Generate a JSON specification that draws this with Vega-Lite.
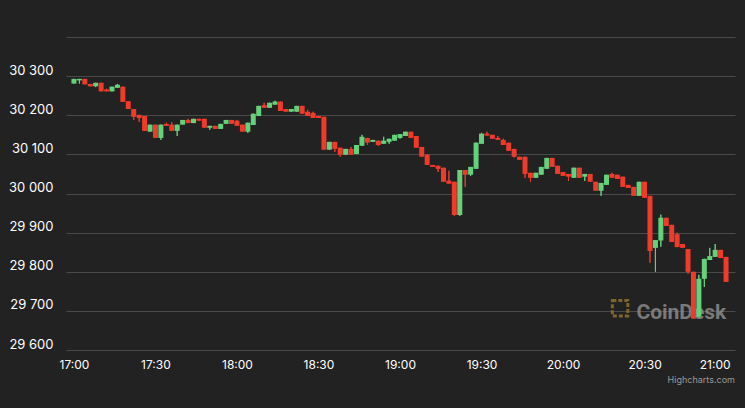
{
  "$schema": "https://vega.github.io/schema/vega-lite/v6.json",
  "autosize": {"type": "none"},
  "width": 669,
  "height": 313,
  "padding": {"left": 66, "top": 37, "right": 10, "bottom": 58},
  "background": "#222222",
  "config": {"view": {"stroke": null}, "font": "Inter"},
  "title": {"text": "Highcharts.com", "orient": "bottom", "anchor": "end", "frame": "group", "fontSize": 9, "fontWeight": "normal", "color": "#999999", "font": "Inter", "offset": 6},
  "resolve": {"axis": {"x": "independent", "y": "independent"}},
  "layer": [
    {
      "data": {"name": "candles"},
      "mark": {"type": "rule", "strokeWidth": 1},
      "encoding": {
        "x": {
          "field": "t", "type": "temporal",
          "scale": {"domain": [
            {"year": 2023, "month": 6, "date": 1, "hours": 16, "minutes": 58, "seconds": 55},
            {"year": 2023, "month": 6, "date": 1, "hours": 21, "minutes": 1, "seconds": 27}
          ]},
          "axis": {
            "title": null, "format": "%H:%M",
            "values": [
              {"year": 2023, "month": 6, "date": 1, "hours": 17, "minutes": 0},
              {"year": 2023, "month": 6, "date": 1, "hours": 17, "minutes": 30},
              {"year": 2023, "month": 6, "date": 1, "hours": 18, "minutes": 0},
              {"year": 2023, "month": 6, "date": 1, "hours": 18, "minutes": 30},
              {"year": 2023, "month": 6, "date": 1, "hours": 19, "minutes": 0},
              {"year": 2023, "month": 6, "date": 1, "hours": 19, "minutes": 30},
              {"year": 2023, "month": 6, "date": 1, "hours": 20, "minutes": 0},
              {"year": 2023, "month": 6, "date": 1, "hours": 20, "minutes": 30},
              {"year": 2023, "month": 6, "date": 1, "hours": 21, "minutes": 0}
            ],
            "grid": false, "domain": false, "ticks": false,
            "labelColor": "#ffffff", "labelFont": "Inter", "labelFontSize": 12,
            "labelPadding": 9, "labelBaseline": "top",
            "labelAlign": {"condition": {"test": "hours(datum.value) == 21", "value": "right"}, "value": "center"},
            "labelOffset": {"condition": {"test": "hours(datum.value) == 21", "value": 4}, "value": 0}
          }
        },
        "y": {
          "field": "l", "type": "quantitative",
          "scale": {"domain": [29600, 30400], "nice": false, "zero": false},
          "axis": {
            "title": null,
            "values": [29600, 29700, 29800, 29900, 30000, 30100, 30200, 30300, 30400],
            "labelExpr": "datum.value >= 30400 ? '' : replace(format(datum.value, ','), ',', ' ')",
            "grid": true, "gridColor": "#4a4a4a", "gridWidth": 1,
            "domain": false, "ticks": false,
            "labelColor": "#ffffff", "labelFont": "Inter", "labelFontSize": 13,
            "labelPadding": 13, "labelAlign": "right", "labelBaseline": "alphabetic", "labelOffset": -2
          }
        },
        "y2": {"field": "h"},
        "color": {"condition": {"test": "datum.o <= datum.c", "value": "#64d27b"}, "value": "#ef3a2c"}
      }
    },
    {
      "data": {"values": [{"label": "CoinDesk"}]},
      "mark": {"type": "point", "shape": "square", "size": 240, "filled": false, "stroke": "#8a6d2f", "strokeWidth": 3, "strokeDash": [4, 2], "opacity": 0.9},
      "encoding": {
        "x": {"datum": {"year": 2023, "month": 6, "date": 1, "hours": 20, "minutes": 21, "seconds": 0}, "type": "temporal", "axis": null},
        "y": {"datum": 29707, "type": "quantitative", "axis": null}
      }
    },
    {
      "data": {"values": [{"label": "CoinDesk"}]},
      "mark": {"type": "text", "font": "Roboto", "fontSize": 21, "fontWeight": "bold", "color": "#8a8a8a", "opacity": 0.85, "align": "left", "baseline": "alphabetic"},
      "encoding": {
        "text": {"field": "label"},
        "x": {"datum": {"year": 2023, "month": 6, "date": 1, "hours": 20, "minutes": 27}, "type": "temporal", "axis": null},
        "y": {"datum": 29680, "type": "quantitative", "axis": null}
      }
    },
    {
      "data": {"name": "candles"},
      "mark": {"type": "rule", "strokeWidth": 1},
      "encoding": {
        "x": {"field": "t", "type": "temporal", "axis": null},
        "y": {"field": "l", "type": "quantitative", "axis": null},
        "y2": {"field": "h"},
        "color": {"condition": {"test": "datum.o <= datum.c", "value": "#64d27b"}, "value": "#ef3a2c"}
      }
    },
    {
      "data": {"name": "candles"},
      "mark": {"type": "bar", "size": 5},
      "encoding": {
        "x": {"field": "t", "type": "temporal", "axis": null},
        "y": {"field": "o", "type": "quantitative", "axis": null},
        "y2": {"field": "c"},
        "color": {"condition": {"test": "datum.o <= datum.c", "value": "#64d27b"}, "value": "#ef3a2c"}
      }
    }
  ],
  "datasets": {"candles": [
    {"t":"2023-06-01T17:00:00","o":30281,"h":30293,"l":30281,"c":30293},
    {"t":"2023-06-01T17:02:00","o":30289,"h":30293,"l":30281,"c":30293},
    {"t":"2023-06-01T17:04:00","o":30293,"h":30293,"l":30279,"c":30279},
    {"t":"2023-06-01T17:06:00","o":30280,"h":30280,"l":30274,"c":30274},
    {"t":"2023-06-01T17:08:00","o":30274,"h":30283,"l":30272,"c":30283},
    {"t":"2023-06-01T17:10:00","o":30283,"h":30283,"l":30261,"c":30261},
    {"t":"2023-06-01T17:12:00","o":30266,"h":30268,"l":30261,"c":30261},
    {"t":"2023-06-01T17:14:00","o":30261,"h":30273,"l":30261,"c":30273},
    {"t":"2023-06-01T17:16:00","o":30270,"h":30280,"l":30270,"c":30278},
    {"t":"2023-06-01T17:18:00","o":30273,"h":30273,"l":30234,"c":30234},
    {"t":"2023-06-01T17:20:00","o":30236,"h":30236,"l":30216,"c":30216},
    {"t":"2023-06-01T17:22:00","o":30216,"h":30216,"l":30188,"c":30196},
    {"t":"2023-06-01T17:24:00","o":30201,"h":30201,"l":30183,"c":30193},
    {"t":"2023-06-01T17:26:00","o":30198,"h":30198,"l":30160,"c":30160},
    {"t":"2023-06-01T17:28:00","o":30158,"h":30176,"l":30158,"c":30176},
    {"t":"2023-06-01T17:30:00","o":30176,"h":30176,"l":30142,"c":30142},
    {"t":"2023-06-01T17:32:00","o":30142,"h":30176,"l":30137,"c":30176},
    {"t":"2023-06-01T17:34:00","o":30178,"h":30181,"l":30173,"c":30173},
    {"t":"2023-06-01T17:36:00","o":30176,"h":30182,"l":30160,"c":30160},
    {"t":"2023-06-01T17:38:00","o":30160,"h":30176,"l":30147,"c":30176},
    {"t":"2023-06-01T17:40:00","o":30176,"h":30188,"l":30176,"c":30188},
    {"t":"2023-06-01T17:42:00","o":30188,"h":30191,"l":30180,"c":30180},
    {"t":"2023-06-01T17:44:00","o":30180,"h":30191,"l":30180,"c":30191},
    {"t":"2023-06-01T17:46:00","o":30191,"h":30191,"l":30186,"c":30186},
    {"t":"2023-06-01T17:48:00","o":30191,"h":30191,"l":30168,"c":30168},
    {"t":"2023-06-01T17:50:00","o":30168,"h":30173,"l":30163,"c":30173},
    {"t":"2023-06-01T17:52:00","o":30173,"h":30173,"l":30165,"c":30165},
    {"t":"2023-06-01T17:54:00","o":30165,"h":30178,"l":30165,"c":30178},
    {"t":"2023-06-01T17:56:00","o":30178,"h":30188,"l":30178,"c":30188},
    {"t":"2023-06-01T17:58:00","o":30188,"h":30188,"l":30178,"c":30178},
    {"t":"2023-06-01T18:00:00","o":30186,"h":30188,"l":30173,"c":30173},
    {"t":"2023-06-01T18:02:00","o":30176,"h":30176,"l":30158,"c":30158},
    {"t":"2023-06-01T18:04:00","o":30158,"h":30181,"l":30155,"c":30181},
    {"t":"2023-06-01T18:06:00","o":30175,"h":30204,"l":30175,"c":30204},
    {"t":"2023-06-01T18:08:00","o":30198,"h":30224,"l":30198,"c":30224},
    {"t":"2023-06-01T18:10:00","o":30226,"h":30232,"l":30219,"c":30219},
    {"t":"2023-06-01T18:12:00","o":30219,"h":30232,"l":30219,"c":30232},
    {"t":"2023-06-01T18:14:00","o":30227,"h":30237,"l":30227,"c":30235},
    {"t":"2023-06-01T18:16:00","o":30235,"h":30235,"l":30211,"c":30211},
    {"t":"2023-06-01T18:18:00","o":30216,"h":30216,"l":30209,"c":30209},
    {"t":"2023-06-01T18:20:00","o":30209,"h":30216,"l":30209,"c":30216},
    {"t":"2023-06-01T18:22:00","o":30209,"h":30224,"l":30209,"c":30224},
    {"t":"2023-06-01T18:24:00","o":30224,"h":30224,"l":30204,"c":30204},
    {"t":"2023-06-01T18:26:00","o":30209,"h":30214,"l":30198,"c":30198},
    {"t":"2023-06-01T18:28:00","o":30206,"h":30209,"l":30193,"c":30193},
    {"t":"2023-06-01T18:30:00","o":30198,"h":30198,"l":30193,"c":30193},
    {"t":"2023-06-01T18:32:00","o":30196,"h":30196,"l":30112,"c":30112},
    {"t":"2023-06-01T18:34:00","o":30112,"h":30132,"l":30112,"c":30132},
    {"t":"2023-06-01T18:36:00","o":30132,"h":30132,"l":30106,"c":30114},
    {"t":"2023-06-01T18:38:00","o":30117,"h":30117,"l":30094,"c":30099},
    {"t":"2023-06-01T18:40:00","o":30099,"h":30114,"l":30099,"c":30114},
    {"t":"2023-06-01T18:42:00","o":30114,"h":30119,"l":30099,"c":30099},
    {"t":"2023-06-01T18:44:00","o":30101,"h":30124,"l":30101,"c":30124},
    {"t":"2023-06-01T18:46:00","o":30122,"h":30150,"l":30122,"c":30145},
    {"t":"2023-06-01T18:48:00","o":30142,"h":30142,"l":30124,"c":30130},
    {"t":"2023-06-01T18:50:00","o":30132,"h":30137,"l":30132,"c":30137},
    {"t":"2023-06-01T18:52:00","o":30135,"h":30135,"l":30122,"c":30124},
    {"t":"2023-06-01T18:54:00","o":30127,"h":30145,"l":30127,"c":30135},
    {"t":"2023-06-01T18:56:00","o":30132,"h":30140,"l":30127,"c":30140},
    {"t":"2023-06-01T18:58:00","o":30135,"h":30150,"l":30135,"c":30150},
    {"t":"2023-06-01T19:00:00","o":30142,"h":30152,"l":30140,"c":30152},
    {"t":"2023-06-01T19:02:00","o":30147,"h":30158,"l":30147,"c":30158},
    {"t":"2023-06-01T19:04:00","o":30158,"h":30158,"l":30142,"c":30142},
    {"t":"2023-06-01T19:06:00","o":30147,"h":30147,"l":30117,"c":30117},
    {"t":"2023-06-01T19:08:00","o":30119,"h":30119,"l":30094,"c":30094},
    {"t":"2023-06-01T19:10:00","o":30099,"h":30101,"l":30073,"c":30073},
    {"t":"2023-06-01T19:12:00","o":30073,"h":30073,"l":30068,"c":30068},
    {"t":"2023-06-01T19:14:00","o":30071,"h":30071,"l":30055,"c":30063},
    {"t":"2023-06-01T19:16:00","o":30066,"h":30066,"l":30030,"c":30030},
    {"t":"2023-06-01T19:18:00","o":30033,"h":30058,"l":30025,"c":30025},
    {"t":"2023-06-01T19:20:00","o":30030,"h":30030,"l":29943,"c":29945},
    {"t":"2023-06-01T19:22:00","o":29945,"h":30060,"l":29943,"c":30060},
    {"t":"2023-06-01T19:24:00","o":30060,"h":30060,"l":30017,"c":30048},
    {"t":"2023-06-01T19:26:00","o":30048,"h":30068,"l":30045,"c":30068},
    {"t":"2023-06-01T19:28:00","o":30063,"h":30130,"l":30063,"c":30130},
    {"t":"2023-06-01T19:30:00","o":30127,"h":30155,"l":30127,"c":30153},
    {"t":"2023-06-01T19:32:00","o":30153,"h":30158,"l":30148,"c":30148},
    {"t":"2023-06-01T19:34:00","o":30150,"h":30150,"l":30140,"c":30140},
    {"t":"2023-06-01T19:36:00","o":30142,"h":30147,"l":30137,"c":30137},
    {"t":"2023-06-01T19:38:00","o":30137,"h":30140,"l":30124,"c":30124},
    {"t":"2023-06-01T19:40:00","o":30130,"h":30130,"l":30109,"c":30109},
    {"t":"2023-06-01T19:42:00","o":30114,"h":30114,"l":30092,"c":30094},
    {"t":"2023-06-01T19:44:00","o":30094,"h":30094,"l":30086,"c":30086},
    {"t":"2023-06-01T19:46:00","o":30094,"h":30094,"l":30040,"c":30050},
    {"t":"2023-06-01T19:48:00","o":30053,"h":30053,"l":30030,"c":30040},
    {"t":"2023-06-01T19:50:00","o":30040,"h":30053,"l":30040,"c":30053},
    {"t":"2023-06-01T19:52:00","o":30048,"h":30068,"l":30048,"c":30068},
    {"t":"2023-06-01T19:54:00","o":30063,"h":30091,"l":30063,"c":30091},
    {"t":"2023-06-01T19:56:00","o":30091,"h":30091,"l":30068,"c":30068},
    {"t":"2023-06-01T19:58:00","o":30071,"h":30071,"l":30050,"c":30050},
    {"t":"2023-06-01T20:00:00","o":30055,"h":30055,"l":30045,"c":30045},
    {"t":"2023-06-01T20:02:00","o":30050,"h":30050,"l":30032,"c":30043},
    {"t":"2023-06-01T20:04:00","o":30040,"h":30066,"l":30040,"c":30066},
    {"t":"2023-06-01T20:06:00","o":30066,"h":30066,"l":30040,"c":30040},
    {"t":"2023-06-01T20:08:00","o":30043,"h":30050,"l":30032,"c":30050},
    {"t":"2023-06-01T20:10:00","o":30050,"h":30050,"l":30030,"c":30030},
    {"t":"2023-06-01T20:12:00","o":30030,"h":30030,"l":30007,"c":30007},
    {"t":"2023-06-01T20:14:00","o":30007,"h":30027,"l":29994,"c":30027},
    {"t":"2023-06-01T20:16:00","o":30022,"h":30048,"l":30022,"c":30048},
    {"t":"2023-06-01T20:18:00","o":30050,"h":30053,"l":30040,"c":30040},
    {"t":"2023-06-01T20:20:00","o":30048,"h":30048,"l":30037,"c":30037},
    {"t":"2023-06-01T20:22:00","o":30043,"h":30043,"l":30017,"c":30017},
    {"t":"2023-06-01T20:24:00","o":30022,"h":30022,"l":30014,"c":30014},
    {"t":"2023-06-01T20:26:00","o":30017,"h":30017,"l":29994,"c":29994},
    {"t":"2023-06-01T20:28:00","o":29994,"h":30030,"l":29994,"c":30030},
    {"t":"2023-06-01T20:30:00","o":30030,"h":30030,"l":29989,"c":29989},
    {"t":"2023-06-01T20:32:00","o":29994,"h":29994,"l":29823,"c":29853},
    {"t":"2023-06-01T20:34:00","o":29861,"h":29881,"l":29800,"c":29881},
    {"t":"2023-06-01T20:36:00","o":29880,"h":29946,"l":29864,"c":29938},
    {"t":"2023-06-01T20:38:00","o":29938,"h":29938,"l":29917,"c":29917},
    {"t":"2023-06-01T20:40:00","o":29920,"h":29920,"l":29876,"c":29876},
    {"t":"2023-06-01T20:42:00","o":29896,"h":29900,"l":29863,"c":29863},
    {"t":"2023-06-01T20:44:00","o":29871,"h":29871,"l":29861,"c":29861},
    {"t":"2023-06-01T20:46:00","o":29858,"h":29858,"l":29795,"c":29800},
    {"t":"2023-06-01T20:48:00","o":29800,"h":29800,"l":29680,"c":29680},
    {"t":"2023-06-01T20:50:00","o":29685,"h":29792,"l":29683,"c":29782},
    {"t":"2023-06-01T20:52:00","o":29782,"h":29833,"l":29761,"c":29833},
    {"t":"2023-06-01T20:54:00","o":29830,"h":29861,"l":29830,"c":29840},
    {"t":"2023-06-01T20:56:00","o":29838,"h":29871,"l":29838,"c":29856},
    {"t":"2023-06-01T20:58:00","o":29856,"h":29856,"l":29835,"c":29835},
    {"t":"2023-06-01T21:00:00","o":29838,"h":29838,"l":29774,"c":29774}
  ]}
}
